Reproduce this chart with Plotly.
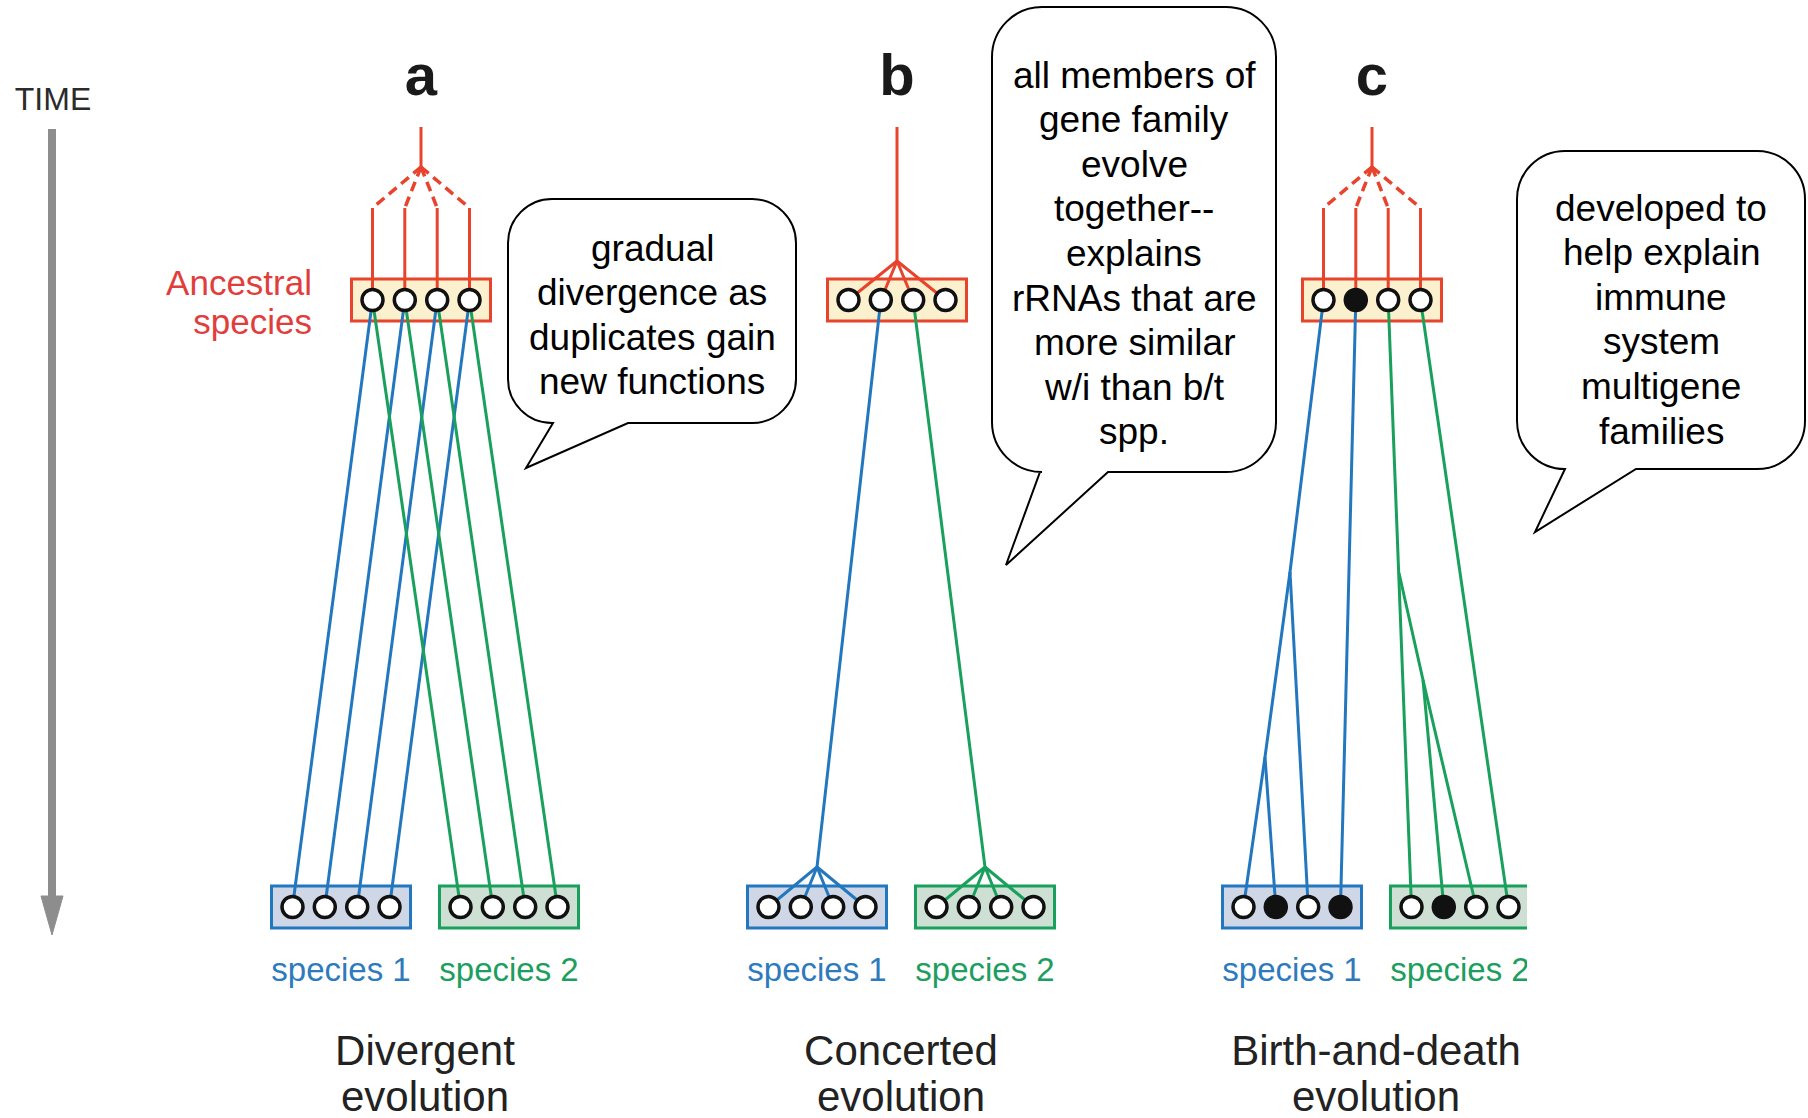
import plotly.graph_objects as go

W, H = 1808, 1118
FONT = "Arial, Liberation Sans, sans-serif"

# ---------------- data ----------------
panel_letters = ["a", "b", "c"]
panel_titles = [["Divergent", "evolution"],
                ["Concerted", "evolution"],
                ["Birth-and-death", "evolution"]]
species_names = ["species 1", "species 2"]
ancestral_label = ["Ancestral", "species"]
time_label = "TIME"

# gene states in each box (1 = filled black gene, 0 = open gene)
ancestral_genes = [[0, 0, 0, 0], [0, 0, 0, 0], [0, 1, 0, 0]]
species1_genes = [[0, 0, 0, 0], [0, 0, 0, 0], [0, 1, 0, 1]]
species2_genes = [[0, 0, 0, 0], [0, 0, 0, 0], [0, 1, 0, 0]]

# how the ancestral genes hang from the root: dashed duplications or a common fan
ancestral_link = ["dash", "fan", "dash"]

# lineages (node ids: A=ancestral gene, S1/S2 = species genes, J = branch points)
blue_lineages = [
    [[("A", 0), ("S1", 0)], [("A", 1), ("S1", 1)], [("A", 2), ("S1", 2)], [("A", 3), ("S1", 3)]],
    [[("A", 1), ("J", "s1"), ("S1", 0)], [("J", "s1"), ("S1", 1)],
     [("J", "s1"), ("S1", 2)], [("J", "s1"), ("S1", 3)]],
    [[("A", 0), ("J", "b1"), ("J", "b2"), ("S1", 0)], [("J", "b2"), ("S1", 1)],
     [("J", "b1"), ("S1", 2)], [("A", 1), ("S1", 3)]],
]
green_lineages = [
    [[("A", 0), ("S2", 0)], [("A", 1), ("S2", 1)], [("A", 2), ("S2", 2)], [("A", 3), ("S2", 3)]],
    [[("A", 2), ("J", "s2"), ("S2", 0)], [("J", "s2"), ("S2", 1)],
     [("J", "s2"), ("S2", 2)], [("J", "s2"), ("S2", 3)]],
    [[("A", 2), ("J", "g1"), ("S2", 0)], [("J", "g1"), ("J", "g2"), ("S2", 1)],
     [("J", "g2"), ("S2", 2)], [("A", 3), ("S2", 3)]],
]

bubble_texts = [
    ["gradual", "divergence as", "duplicates gain", "new functions"],
    ["all members of", "gene family", "evolve", "together--", "explains",
     "rRNAs that are", "more similar", "w/i than b/t", "spp."],
    ["developed to", "help explain", "immune", "system", "multigene", "families"],
]

# ---------------- geometry / styles ----------------
panel_cx = [421, 897, 1372]
box_dx = {"A": 0, "S1": -80, "S2": 88}
slot_dx = [-48.5, -16.2, 16.2, 48.5]
Y_ANC, Y_SP = 300, 907
BOX_HW, BOX_HH = 69.5, 21
Y_STEM_TOP, Y_SPLIT, Y_VTOP, Y_FAN = 127, 167, 208, 261
branch_pts = {"s1": (-80, 867), "s2": (88, 867),
              "b1": (-82, 572), "b2": (-107, 757),
              "g1": (27, 573), "g2": (51, 680)}

RED, BLUE, GREEN = "#e8432d", "#2277bf", "#19a05c"
RED_TXT, BLUE_TXT, GREEN_TXT = "#e23d3d", "#2d7bbd", "#1c9e60"
FILL_A, FILL_S1, FILL_S2 = "#fcf1cf", "#cfd7e7", "#cde0d3"
LW = 3


def node_xy(p, node):
    kind, k = node
    cx = panel_cx[p]
    if kind == "J":
        dx, y = branch_pts[k]
        return cx + dx, y
    y = Y_ANC if kind == "A" else Y_SP
    return cx + box_dx[kind] + slot_dx[k], y


fig = go.Figure()
shapes = []

# boxes
for p in range(3):
    for kind, fill, col, yc in [("A", FILL_A, RED, Y_ANC), ("S1", FILL_S1, BLUE, Y_SP),
                                ("S2", FILL_S2, GREEN, Y_SP)]:
        cx = panel_cx[p] + box_dx[kind]
        shapes.append(dict(type="rect", layer="below", x0=cx - BOX_HW, x1=cx + BOX_HW,
                           y0=yc - BOX_HH, y1=yc + BOX_HH, fillcolor=fill,
                           line=dict(color=col, width=LW)))

# red ancestral links
red_solid_x, red_solid_y, red_dash_x, red_dash_y = [], [], [], []
for p in range(3):
    cx = panel_cx[p]
    if ancestral_link[p] == "dash":
        red_solid_x += [cx, cx, None]
        red_solid_y += [Y_STEM_TOP, Y_SPLIT, None]
        for s in range(4):
            gx = cx + slot_dx[s]
            red_dash_x += [cx, gx, None]
            red_dash_y += [Y_SPLIT, Y_VTOP, None]
            red_solid_x += [gx, gx, None]
            red_solid_y += [Y_VTOP, Y_ANC, None]
    else:
        red_solid_x += [cx, cx, None]
        red_solid_y += [Y_STEM_TOP, Y_FAN, None]
        for s in range(4):
            gx = cx + slot_dx[s]
            red_solid_x += [cx, gx, None]
            red_solid_y += [Y_FAN, Y_ANC, None]

fig.add_trace(go.Scatter(x=red_dash_x, y=red_dash_y, mode="lines",
                         line=dict(color=RED, width=3.5, dash="10px,6px"), hoverinfo="skip"))
fig.add_trace(go.Scatter(x=red_solid_x, y=red_solid_y, mode="lines",
                         line=dict(color=RED, width=LW), hoverinfo="skip"))

# lineages
for lineages, col in [(blue_lineages, BLUE), (green_lineages, GREEN)]:
    xs, ys = [], []
    for p in range(3):
        for path in lineages[p]:
            for node in path:
                x, y = node_xy(p, node)
                xs.append(x)
                ys.append(y)
            xs.append(None)
            ys.append(None)
    fig.add_trace(go.Scatter(x=xs, y=ys, mode="lines", line=dict(color=col, width=LW),
                             hoverinfo="skip"))

# genes
gx, gy, gfill = [], [], []
for p in range(3):
    for kind, states in [("A", ancestral_genes), ("S1", species1_genes), ("S2", species2_genes)]:
        for s in range(4):
            x, y = node_xy(p, (kind, s))
            gx.append(x)
            gy.append(y)
            gfill.append("#111111" if states[p][s] else "#ffffff")
fig.add_trace(go.Scatter(x=gx, y=gy, mode="markers",
                         marker=dict(size=21, color=gfill, line=dict(color="#111111", width=3.5)),
                         hoverinfo="skip"))

# time arrow
fig.add_trace(go.Scatter(x=[52, 52], y=[129, 900], mode="lines",
                         line=dict(color="#8d8d8d", width=8), hoverinfo="skip"))
shapes.append(dict(type="path", layer="above", path="M41,896 L63,896 L52,935 Z",
                   fillcolor="#8d8d8d", line=dict(color="#8d8d8d", width=1)))


def text_trace(xs, ys, texts, size, color, pos="middle center", bold=False):
    return go.Scatter(x=xs, y=ys, text=[f"<b>{t}</b>" if bold else t for t in texts],
                      mode="text", textposition=pos,
                      textfont=dict(family=FONT, size=size, color=color), hoverinfo="skip")


fig.add_trace(text_trace([53], [102], [time_label], 32, "#2b2b2b"))
fig.add_trace(text_trace(panel_cx, [80] * 3, panel_letters, 58, "#1a1a1a", bold=True))
fig.add_trace(text_trace([312, 312], [286, 325], ancestral_label, 35, RED_TXT, pos="middle left"))
fig.add_trace(text_trace([c + box_dx["S1"] for c in panel_cx], [973] * 3,
                         [species_names[0]] * 3, 33, BLUE_TXT))
fig.add_trace(text_trace([c + box_dx["S2"] for c in panel_cx], [973] * 3,
                         [species_names[1]] * 3, 33, GREEN_TXT))
fig.add_trace(text_trace([c + 4 for c in panel_cx] * 2, [1054] * 3 + [1100] * 3,
                         [t[0] for t in panel_titles] + [t[1] for t in panel_titles], 42, "#222222"))

# crop of the original picture on the right edge
shapes.append(dict(type="rect", layer="above", x0=1527, x1=W + 5, y0=480, y1=H + 5,
                   fillcolor="#ffffff", line=dict(width=0)))


def bubble_path(x0, y0, x1, y1, r, tb0, tb1, tip):
    k = 0.5523 * r
    return (f"M{x0 + r},{y0} L{x1 - r},{y0} "
            f"C{x1 - r + k},{y0} {x1},{y0 + r - k} {x1},{y0 + r} "
            f"L{x1},{y1 - r} C{x1},{y1 - r + k} {x1 - r + k},{y1} {x1 - r},{y1} "
            f"L{tb1},{y1} L{tip[0]},{tip[1]} L{tb0},{y1} L{x0 + r},{y1} "
            f"C{x0 + r - k},{y1} {x0},{y1 - r + k} {x0},{y1 - r} "
            f"L{x0},{y0 + r} C{x0},{y0 + r - k} {x0 + r - k},{y0} {x0 + r},{y0} Z")


bubbles = [
    dict(box=(508, 199, 796, 423), r=44, base=(553, 628), tip=(526, 468), y0=248),
    dict(box=(992, 7, 1276, 472), r=50, base=(1040, 1108), tip=(1006, 565), y0=75),
    dict(box=(1517, 151, 1805, 469), r=48, base=(1565, 1636), tip=(1535, 532), y0=208),
]
annotations = []
LINE_STEP = 44.6
for b, lines in zip(bubbles, bubble_texts):
    x0, y0, x1, y1 = b["box"]
    shapes.append(dict(type="path", layer="above",
                       path=bubble_path(x0, y0, x1, y1, b["r"], b["base"][0], b["base"][1], b["tip"]),
                       fillcolor="rgba(255,255,255,0)", line=dict(color="#000000", width=2)))
    cx = (x0 + x1) / 2
    for i, t in enumerate(lines):
        annotations.append(dict(x=cx, y=b["y0"] + i * LINE_STEP, text=t, showarrow=False,
                                xanchor="center", yanchor="middle",
                                font=dict(family=FONT, size=37, color="#000000")))

fig.update_layout(
    width=W, height=H, margin=dict(l=0, r=0, t=0, b=0),
    paper_bgcolor="#ffffff", plot_bgcolor="#ffffff", showlegend=False,
    xaxis=dict(range=[0, W], visible=False, fixedrange=True),
    yaxis=dict(range=[H, 0], visible=False, fixedrange=True),
    shapes=shapes, annotations=annotations,
)

fig.write_html("out.html", config={"displayModeBar": False},
               post_script="document.body.style.margin='0';")
